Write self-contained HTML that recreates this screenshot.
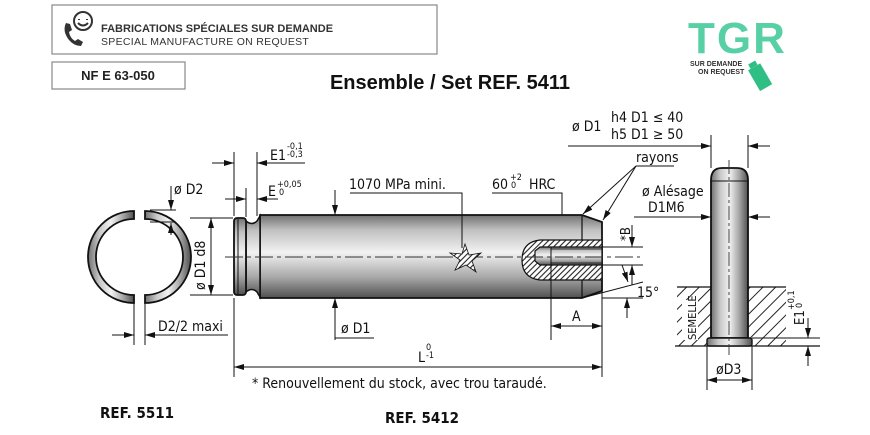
<!DOCTYPE html>
<html><head><meta charset="utf-8"><style>
html,body{margin:0;padding:0;background:#fff;width:870px;height:435px;overflow:hidden}
svg{display:block}
.t{font-family:"DejaVu Sans Condensed","DejaVu Sans","Liberation Sans",sans-serif;fill:#111}
</style></head><body>
<svg width="870" height="435" viewBox="0 0 870 435" xmlns="http://www.w3.org/2000/svg">
<defs>
<linearGradient id="cyl" x1="0" y1="0" x2="0" y2="1">
<stop offset="0" stop-color="#707070"/><stop offset="0.18" stop-color="#c0c0c0"/><stop offset="0.45" stop-color="#f2f2f2"/><stop offset="0.75" stop-color="#a8a8a8"/><stop offset="1" stop-color="#505050"/></linearGradient>
<linearGradient id="cylv" x1="0" y1="0" x2="1" y2="0">
<stop offset="0" stop-color="#707070"/><stop offset="0.25" stop-color="#c8c8c8"/><stop offset="0.5" stop-color="#f2f2f2"/><stop offset="0.78" stop-color="#a0a0a0"/><stop offset="1" stop-color="#505050"/></linearGradient>
<pattern id="hat" width="4" height="4" patternUnits="userSpaceOnUse" patternTransform="rotate(45)"><rect width="4" height="4" fill="#fff"/><line x1="2" y1="0" x2="2" y2="4" stroke="#222" stroke-width="1.1"/></pattern>
<pattern id="hat2" width="9" height="9" patternUnits="userSpaceOnUse" patternTransform="rotate(45)"><rect width="9" height="9" fill="#fff"/><line x1="4.5" y1="0" x2="4.5" y2="9" stroke="#222" stroke-width="1"/></pattern>
<marker id="ar" markerWidth="10" markerHeight="6" refX="10" refY="3" orient="auto" markerUnits="userSpaceOnUse"><path d="M0,0 L10,3 L0,6z" fill="#111"/></marker>
</defs>

<!-- header -->
<rect x="52" y="5" width="385" height="49" fill="#fff" stroke="#888" stroke-width="1.2"/>
<g fill="none" stroke="#333" stroke-width="2">
<circle cx="83" cy="21" r="9"/><path d="M79 19 v1 M87 19 v1 M78 23 q5 5 10 0"/>
</g>
<path d="M66 23 q-4 8 3 17 q5 6 12 6 l2-4 -5-3 -3 2 q-5-3-6-9 l3-2 -2-6z" fill="#333"/>
<text x="101" y="32" style="font-family:'Liberation Sans',sans-serif;font-weight:bold;font-size:11px" fill="#333">FABRICATIONS SPÉCIALES SUR DEMANDE</text>
<text x="101" y="45" style="font-family:'Liberation Sans',sans-serif;font-size:10.5px;letter-spacing:0.3px" fill="#333">SPECIAL MANUFACTURE ON REQUEST</text>
<rect x="52" y="62" width="133" height="27" fill="#fff" stroke="#888" stroke-width="1.2"/>
<text x="118" y="80" text-anchor="middle" style="font-family:'Liberation Sans',sans-serif;font-weight:bold;font-size:13px" fill="#222">NF E 63-050</text>
<text x="450" y="89" text-anchor="middle" style="font-family:'Liberation Sans',sans-serif;font-weight:bold;font-size:20px" fill="#111">Ensemble / Set REF. 5411</text>

<!-- logo -->
<text x="688" y="53" style="font-family:'Liberation Sans',sans-serif;font-size:44px;font-weight:bold;letter-spacing:2px" fill="#3cc896" opacity="0.85">TGR</text>
<text x="690" y="66" style="font-family:'Liberation Sans',sans-serif;font-size:7px;font-weight:bold" fill="#333">SUR DEMANDE</text>
<text x="698" y="74" style="font-family:'Liberation Sans',sans-serif;font-size:7px;font-weight:bold" fill="#333">ON REQUEST</text>
<g transform="rotate(-30 760 75)"><rect x="752" y="65" width="14" height="24" fill="#2fbf85"/><rect x="755" y="60" width="8" height="5" fill="#2fbf85"/></g>

<!-- ring REF 5511 -->
<path fill="url(#cylv)" stroke="#111" stroke-width="1.8"
 d="M134,211 A46,46 0 0 0 134,303 L134,295 A38,38 0 0 1 134,219 Z"/>
<path fill="url(#cylv)" stroke="#111" stroke-width="1.8"
 d="M145,211 A46,46 0 0 1 145,303 L145,295 A38,38 0 0 0 145,219 Z"/>
<g stroke="#111" stroke-width="1" fill="none">
<line x1="171" y1="186" x2="171" y2="210" marker-end="url(#ar)"/>
<line x1="150" y1="210" x2="176" y2="210"/>
<line x1="150" y1="222" x2="176" y2="222"/>
<line x1="171" y1="235" x2="171" y2="223" marker-end="url(#ar)"/>
<line x1="134" y1="303" x2="134" y2="345"/><line x1="145" y1="303" x2="145" y2="345"/>
<line x1="112" y1="335" x2="134" y2="335" marker-end="url(#ar)"/>
<line x1="228" y1="335" x2="145" y2="335" marker-end="url(#ar)"/>
</g>
<text x="174" y="194" class="t" font-size="14">ø D2</text>
<text x="158" y="331" class="t" font-size="14">D2/2 maxi</text>

<!-- main pin REF 5412 -->
<path d="M260,215 L582,215 L602,222 L602,291 L582,298 L260,298 Z" fill="url(#cyl)" stroke="#111" stroke-width="1.8"/>
<line x1="582" y1="215" x2="582" y2="298" stroke="#111" stroke-width="1.2"/>
<path d="M246,221 Q252,226 257,221 L260,216 L260,297 L257,292 Q252,287 246,292 Z" fill="url(#cyl)" stroke="#111" stroke-width="1.5"/>
<rect x="234" y="218" width="12" height="77" rx="3" fill="url(#cyl)" stroke="#111" stroke-width="1.8"/>
<line x1="238" y1="219" x2="238" y2="294" stroke="#111" stroke-width="1"/>
<!-- bore -->
<path d="M602,240 L540,240 Q522,242 522,260 Q522,278 540,280 L602,280 Z" fill="url(#hat)" stroke="#111" stroke-width="1.2"/>
<path d="M602,247 L540,247 L535,251 L535,261 L540,265 L602,265 Z" fill="url(#cyl)" stroke="#111" stroke-width="1.2"/>
<line x1="551" y1="247" x2="551" y2="265" stroke="#111" stroke-width="1"/>
<line x1="551" y1="249" x2="602" y2="249" stroke="#111" stroke-width="0.8"/>
<line x1="551" y1="263" x2="602" y2="263" stroke="#111" stroke-width="0.8"/>
<line x1="225" y1="257" x2="640" y2="257" stroke="#333" stroke-width="0.9" stroke-dasharray="18,4,4,4"/>
<!-- star -->
<path d="M465,244 L469,255 L481,253 L472,261 L476,272 L466,265 L455,270 L460,260 L450,253 L462,254 Z" fill="url(#hat)" stroke="#111" stroke-width="0.8"/>

<g stroke="#111" stroke-width="1" fill="none">
<line x1="234" y1="152" x2="234" y2="216"/><line x1="257" y1="152" x2="257" y2="216"/>
<line x1="246" y1="188" x2="246" y2="217"/>
<line x1="212" y1="163" x2="234" y2="163" marker-end="url(#ar)"/>
<line x1="305" y1="163" x2="257" y2="163" marker-end="url(#ar)"/>
<line x1="225" y1="199" x2="246" y2="199" marker-end="url(#ar)"/>
<line x1="278" y1="199" x2="257" y2="199" marker-end="url(#ar)"/>
<line x1="190" y1="218" x2="233" y2="218"/><line x1="190" y1="295" x2="233" y2="295"/>
<line x1="211" y1="240" x2="211" y2="218" marker-end="url(#ar)"/>
<line x1="211" y1="275" x2="211" y2="295" marker-end="url(#ar)"/>
<line x1="211" y1="240" x2="211" y2="275"/>
<line x1="335" y1="190" x2="335" y2="215" marker-end="url(#ar)"/>
<line x1="335" y1="340" x2="335" y2="298" marker-end="url(#ar)"/>
<line x1="335" y1="338" x2="374" y2="338"/>
<polyline points="350,193 462,193 462,248"/>
<polyline points="492,193 562,193 562,215"/>
<line x1="234" y1="298" x2="234" y2="377"/><line x1="602" y1="292" x2="602" y2="377"/>
<line x1="300" y1="367" x2="234" y2="367" marker-end="url(#ar)"/>
<line x1="300" y1="367" x2="602" y2="367" marker-end="url(#ar)"/>
<line x1="551" y1="265" x2="551" y2="340"/>
<line x1="577" y1="326" x2="551" y2="326" marker-end="url(#ar)"/>
<line x1="577" y1="326" x2="602" y2="326" marker-end="url(#ar)"/>
<line x1="602" y1="247" x2="643" y2="247"/><line x1="602" y1="265" x2="643" y2="265"/>
<line x1="632" y1="225" x2="632" y2="247" marker-end="url(#ar)"/>
<line x1="632" y1="285" x2="632" y2="265" marker-end="url(#ar)"/>
<line x1="582" y1="298" x2="643" y2="282"/>
<line x1="602" y1="298" x2="643" y2="298"/>
<line x1="627" y1="318" x2="627" y2="298" marker-end="url(#ar)"/>
<line x1="622" y1="265" x2="628" y2="282" marker-end="url(#ar)"/>
<line x1="568" y1="146" x2="711" y2="146" marker-end="url(#ar)"/>
<line x1="770" y1="146" x2="748" y2="146" marker-end="url(#ar)"/>
<line x1="711" y1="135" x2="711" y2="168"/><line x1="748" y1="135" x2="748" y2="168"/>
<line x1="636" y1="166" x2="674" y2="166"/>
<line x1="636" y1="166" x2="583" y2="214" marker-end="url(#ar)"/>
<line x1="636" y1="166" x2="603" y2="220" marker-end="url(#ar)"/>
<line x1="634" y1="217" x2="711" y2="217" marker-end="url(#ar)"/>
<line x1="770" y1="217" x2="748" y2="217" marker-end="url(#ar)"/>
</g>

<text x="270" y="160" class="t" font-size="14">E1</text>
<text x="287" y="149" class="t" font-size="9">-0,1</text>
<text x="287" y="157" class="t" font-size="9">-0,3</text>
<text x="268" y="196" class="t" font-size="14">E</text>
<text x="277" y="187" class="t" font-size="9">+0,05</text>
<text x="279" y="195" class="t" font-size="9">0</text>
<text transform="translate(205,290) rotate(-90)" class="t" font-size="14">ø D1  d8</text>
<text x="349" y="189" class="t" font-size="14">1070 MPa mini.</text>
<text x="492" y="189" class="t" font-size="14">60</text>
<text x="510" y="180" class="t" font-size="9">+2</text>
<text x="511" y="188" class="t" font-size="9">0</text>
<text x="529" y="189" class="t" font-size="14">HRC</text>
<text x="341" y="333" class="t" font-size="14">ø D1</text>
<text x="418" y="362" class="t" font-size="14">L</text>
<text x="426" y="350" class="t" font-size="9">0</text>
<text x="426" y="358" class="t" font-size="9">-1</text>
<text x="572" y="321" class="t" font-size="14">A</text>
<text transform="translate(630,241) rotate(-90)" class="t" font-size="13">*B</text>
<text x="637" y="297" class="t" font-size="14">15°</text>
<text x="252" y="388" class="t" font-size="14">* Renouvellement du stock, avec trou taraudé.</text>
<text x="100" y="418" class="t" font-size="15" font-weight="bold">REF. 5511</text>
<text x="385" y="423" class="t" font-size="15" font-weight="bold">REF. 5412</text>
<text x="572" y="131" class="t" font-size="14">ø D1</text>
<text x="611" y="122" class="t" font-size="14">h4 D1 ≤ 40</text>
<text x="611" y="139" class="t" font-size="14">h5 D1 ≥ 50</text>
<text x="636" y="162" class="t" font-size="14">rayons</text>
<text x="642" y="196" class="t" font-size="14">ø Alésage</text>
<text x="648" y="212" class="t" font-size="14">D1M6</text>

<!-- right assembly -->
<rect x="677" y="287" width="34" height="59" fill="url(#hat2)"/>
<rect x="748" y="287" width="38" height="59" fill="url(#hat2)"/>
<g stroke="#111" stroke-width="1.2" fill="none">
<line x1="677" y1="287" x2="711" y2="287"/><line x1="748" y1="287" x2="786" y2="287"/>
<line x1="675" y1="346" x2="820" y2="346"/>
</g>
<path d="M711,338 L711,180 Q711,168 722,168 L737,168 Q748,168 748,180 L748,338 Z" fill="url(#cylv)" stroke="#111" stroke-width="1.8"/>
<line x1="711" y1="181" x2="748" y2="181" stroke="#111" stroke-width="1"/>
<rect x="707" y="338" width="45" height="8" rx="2" fill="url(#cylv)" stroke="#111" stroke-width="1.4"/>
<line x1="729" y1="160" x2="729" y2="355" stroke="#333" stroke-width="0.9" stroke-dasharray="14,3,3,3"/>
<rect x="682" y="300" width="16" height="40" fill="#fff"/>
<text transform="translate(696,340) rotate(-90)" class="t" font-size="11">SEMELLE</text>
<g stroke="#111" stroke-width="1" fill="none">
<line x1="752" y1="338" x2="820" y2="338"/>
<line x1="808" y1="318" x2="808" y2="338" marker-end="url(#ar)"/>
<line x1="808" y1="366" x2="808" y2="346" marker-end="url(#ar)"/>
<line x1="707" y1="346" x2="707" y2="390"/><line x1="752" y1="346" x2="752" y2="390"/>
<line x1="729" y1="380" x2="707" y2="380" marker-end="url(#ar)"/>
<line x1="729" y1="380" x2="752" y2="380" marker-end="url(#ar)"/>
</g>
<text transform="translate(804,325) rotate(-90)" class="t" font-size="13">E1</text>
<text transform="translate(794,310) rotate(-90)" class="t" font-size="9">+0,1</text>
<text transform="translate(802,308) rotate(-90)" class="t" font-size="9">0</text>
<text x="716" y="374" class="t" font-size="14">øD3</text>
</svg>
</body></html>
